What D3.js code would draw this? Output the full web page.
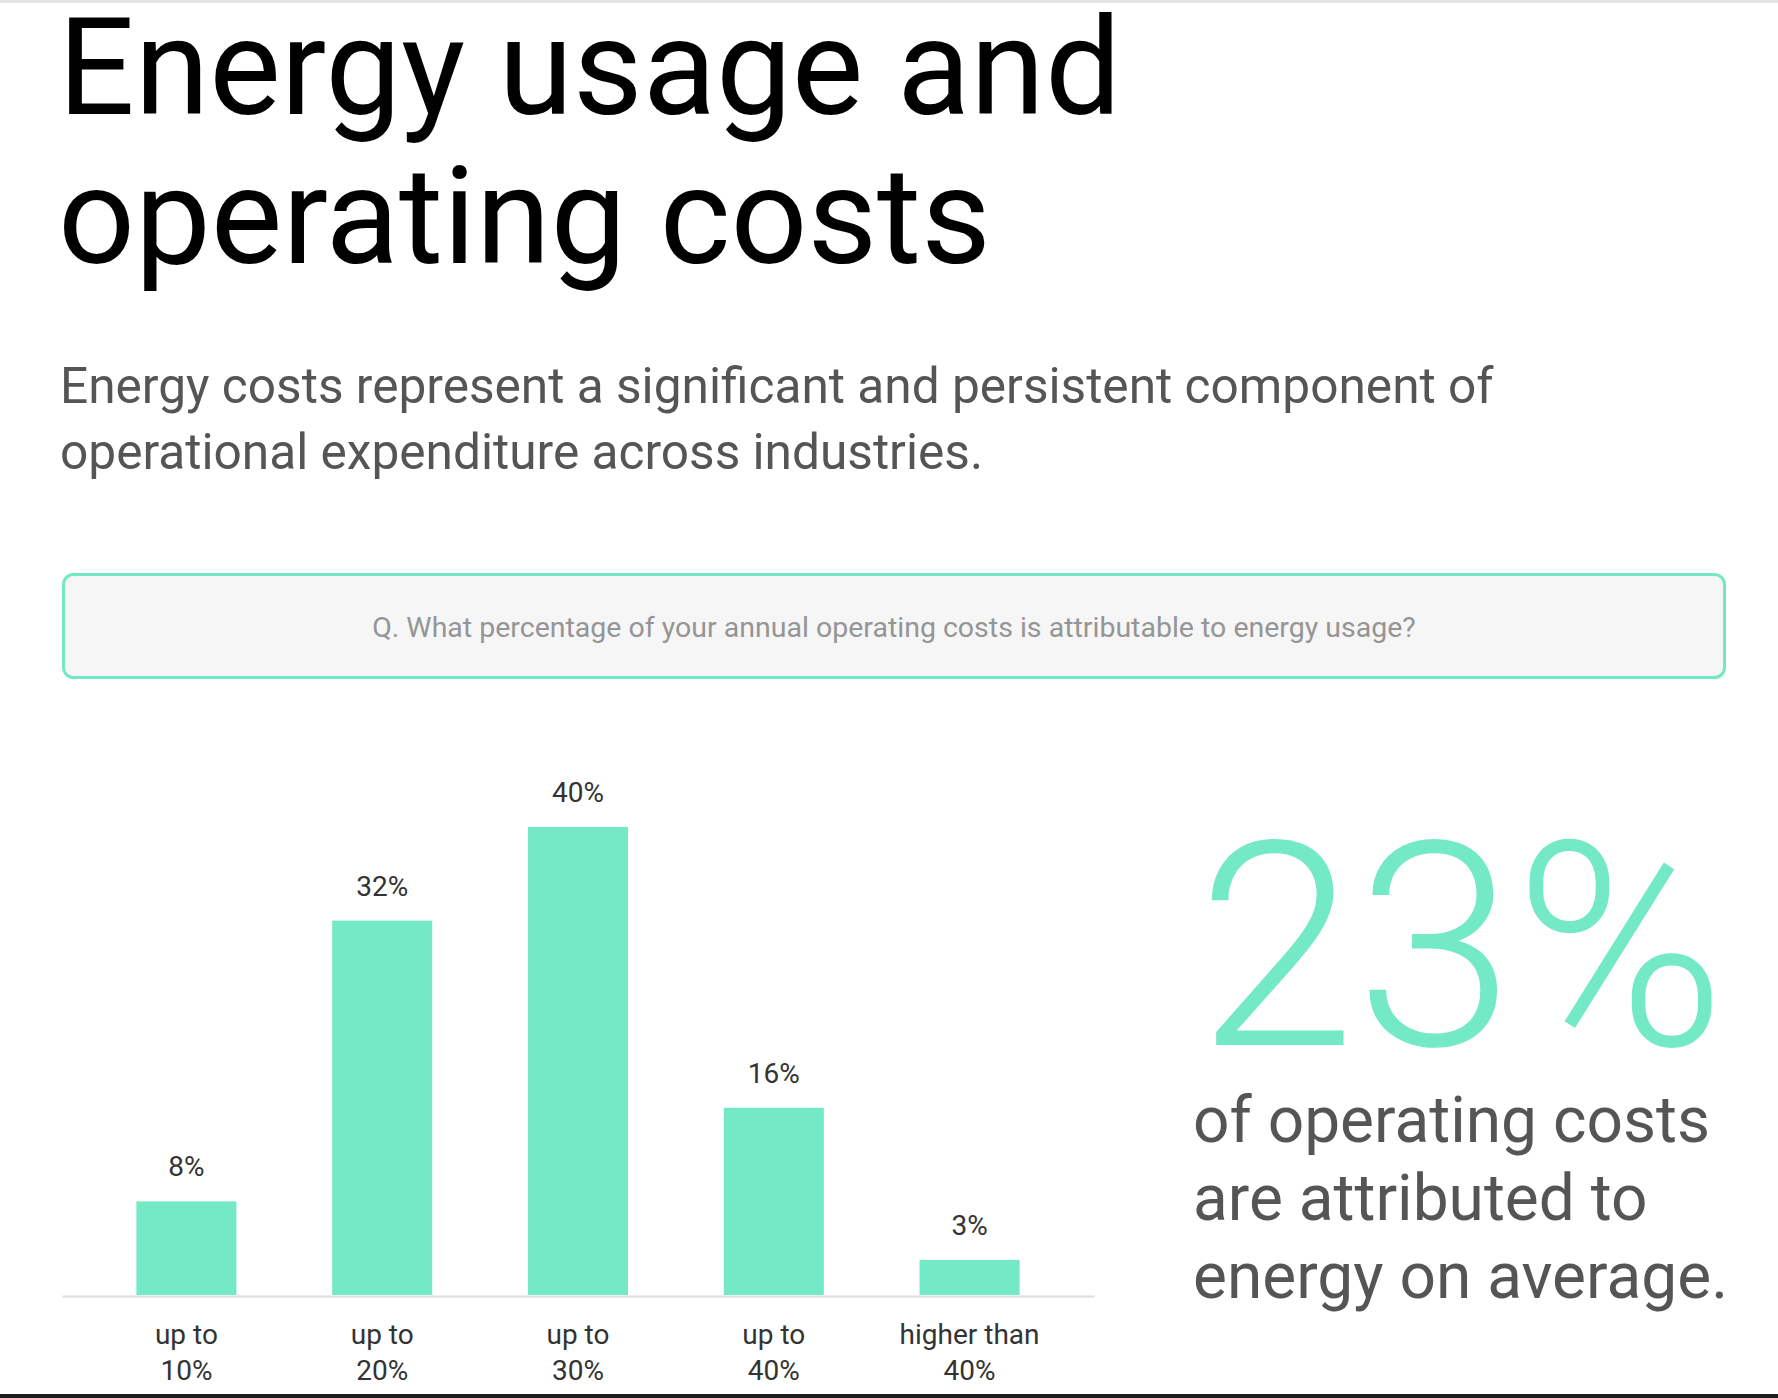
<!DOCTYPE html>
<html>
<head>
<meta charset="utf-8">
<script src="https://cdn.jsdelivr.net/npm/d3@7"></script>
<style>
  body { margin: 0; background: #fff; }
  text { font-family: Roboto, "Noto Sans", sans-serif; }
</style>
</head>
<body>
<div id="chart"></div>
<script>
// chart data
var titleLines = ["Energy usage and", "operating costs"];
var subtitleLines = ["Energy costs represent a significant and persistent component of",
                     "operational expenditure across industries."];
var question = "Q. What percentage of your annual operating costs is attributable to energy usage?";
var categories = ["up to|10%", "up to|20%", "up to|30%", "up to|40%", "higher than|40%"];
var values = [8, 32, 40, 16, 3];
var headline = "23%";
var headlineLines = ["of operating costs", "are attributed to", "energy on average."];

var svgWidth = 1778;
var svgHeight = 1398;
var green = "#74e9c6";

var svg = d3.select("#chart")
  .append("svg")
  .attr("width", svgWidth)
  .attr("height", svgHeight);

// thin frame bits at top and bottom of the page
svg.append("rect").attr("x", 0).attr("y", 0).attr("width", svgWidth).attr("height", 3).attr("fill", "#e4e4e4");
svg.append("rect").attr("x", 0).attr("y", svgHeight - 4).attr("width", svgWidth).attr("height", 4).attr("fill", "#1e1e1e");

// title
svg.append("g").selectAll("text")
  .data(titleLines)
  .enter()
  .append("text")
  .attr("x", 58)
  .attr("y", (d, i) => 114 + i * 149)
  .style("font-size", "135px")
  .attr("fill", "#000")
  .text(d => d);

// subtitle
svg.append("g").selectAll("text")
  .data(subtitleLines)
  .enter()
  .append("text")
  .attr("x", 60)
  .attr("y", (d, i) => 403 + i * 66)
  .style("font-size", "49.6px")
  .attr("fill", "#555")
  .text(d => d);

// question box
svg.append("rect")
  .attr("x", 63.5).attr("y", 574.5)
  .attr("width", 1661).attr("height", 103)
  .attr("rx", 10)
  .attr("fill", "#f6f6f6")
  .attr("stroke", green)
  .attr("stroke-width", 3);

svg.append("text")
  .attr("x", 894)
  .attr("y", 637)
  .style("text-anchor", "middle")
  .style("font-size", "28.5px")
  .attr("fill", "#959595")
  .text(question);

// bar chart
var x = d3.scaleBand()
  .domain(categories)
  .range([62, 1094])
  .paddingInner(0.489)
  .paddingOuter(0.38);

var y = d3.scaleLinear()
  .domain([0, 40])
  .range([1295, 827]);

svg.append("g")
  .selectAll("rect")
  .data(values)
  .enter()
  .append("rect")
  .attr("x", (d, i) => x(categories[i]))
  .attr("y", d => y(d))
  .attr("width", x.bandwidth())
  .attr("height", d => y(0) - y(d))
  .attr("fill", green);

svg.append("g")
  .selectAll("text")
  .data(values)
  .enter()
  .append("text")
  .attr("x", (d, i) => x(categories[i]) + x.bandwidth() / 2)
  .attr("y", d => y(d) - 25)
  .style("text-anchor", "middle")
  .style("font-size", "28px")
  .attr("fill", "#333")
  .text(d => d + "%");

var xAxis = svg.append("g")
  .attr("transform", `translate(0, ${y(0) + 1})`)
  .call(d3.axisBottom(x).tickSize(0).tickSizeOuter(0));

xAxis.select(".domain").attr("stroke", "#dedede").attr("stroke-width", 2);

xAxis.selectAll(".tick text").each(function(d) {
  var t = d3.select(this).text("").attr("y", 0).attr("dy", null)
    .style("font-size", "28px")
    .style("font-family", "Roboto, sans-serif")
    .attr("fill", "#333");
  d.split("|").forEach(function(line, k) {
    t.append("tspan").attr("x", 0).attr("y", 48 + k * 36).text(line);
  });
});

// headline number and caption
svg.append("text")
  .attr("x", 1197)
  .attr("y", 1045)
  .style("font-size", "286px")
  .style("font-weight", 300)
  .attr("fill", green)
  .text(headline);

svg.append("g").selectAll("text")
  .data(headlineLines)
  .enter()
  .append("text")
  .attr("x", 1193)
  .attr("y", (d, i) => 1142 + i * 78)
  .style("font-size", "64px")
  .attr("fill", "#555")
  .text(d => d);
</script>
</body>
</html>
